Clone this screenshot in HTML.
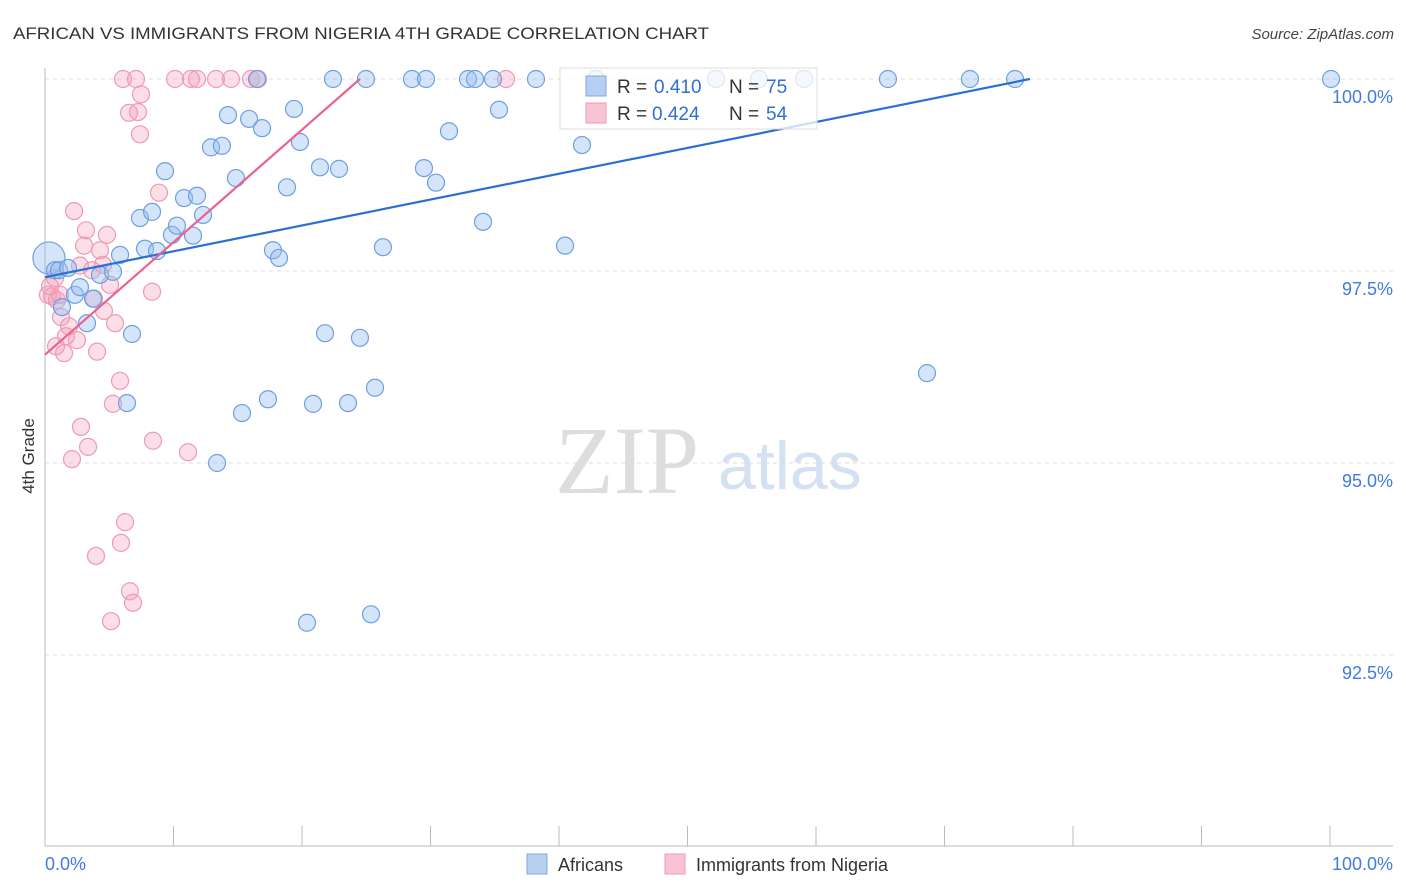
<!DOCTYPE html>
<html><head><meta charset="utf-8"><style>
body{margin:0;background:#fff;font-family:"Liberation Sans",sans-serif;}
svg{display:block}
</style></head><body>
<svg id="c" width="1406" height="892">
<text x="13" y="39" font-size="17" fill="#333" textLength="696" lengthAdjust="spacingAndGlyphs">AFRICAN VS IMMIGRANTS FROM NIGERIA 4TH GRADE CORRELATION CHART</text>
<text x="1394" y="39" font-size="15" fill="#444" font-style="italic" text-anchor="end">Source: ZipAtlas.com</text>
<text transform="translate(34,456) rotate(-90)" font-size="17" fill="#333" text-anchor="middle">4th Grade</text>
<text x="555" y="493" font-size="96" fill="#ddd" font-family="Liberation Serif,serif">ZIP</text>
<text x="718" y="489" font-size="68" fill="#d4e1f3">atlas</text>
<g id="grid"></g><g id="marks"></g>
<g>
<rect x="560" y="68" width="257" height="61" fill="#fff" fill-opacity="0.75" stroke="#ddd"/>
<rect x="586" y="76" width="20" height="20" fill="#b7d0f2" stroke="#7fa8e0"/>
<rect x="586" y="103" width="20" height="20" fill="#f8c4d4" stroke="#eb9ab3"/>
<text x="617" y="93" font-size="19" fill="#333">R =</text>
<text x="654" y="93" font-size="19" fill="#2f6fd6">0.410</text>
<text x="729" y="93" font-size="19" fill="#333">N =</text>
<text x="766" y="93" font-size="19" fill="#2f6fd6">75</text>
<text x="617" y="120" font-size="19" fill="#333">R =</text>
<text x="652" y="120" font-size="19" fill="#2f6fd6">0.424</text>
<text x="729" y="120" font-size="19" fill="#333">N =</text>
<text x="766" y="120" font-size="19" fill="#2f6fd6">54</text>
</g>
<g>
<rect x="527" y="854" width="20" height="20" fill="#b7d0f2" stroke="#7fa8e0"/>
<text x="558" y="871" font-size="18" fill="#333">Africans</text>
<rect x="665" y="854" width="20" height="20" fill="#f8c4d4" stroke="#eb9ab3"/>
<text x="696" y="871" font-size="18" fill="#333">Immigrants from Nigeria</text>
</g>
</svg>
<script>
const yTicks=[100,97.5,95,92.5];
const yTickLabels=["100.0%","97.5%","95.0%","92.5%"];
const xTickLabels=["0.0%","100.0%"];
const blueX=[0.31,0.78,1.32,1.09,1.79,2.33,2.72,3.27,3.74,4.28,5.29,5.84,6.38,6.77,7.39,7.78,8.33,8.72,9.34,9.88,10.27,10.82,11.52,11.83,12.30,12.92,13.39,13.77,14.24,14.86,15.33,15.88,16.50,16.89,17.35,17.74,18.21,18.83,19.38,19.84,20.39,20.86,21.40,21.79,22.41,22.88,23.58,24.51,24.98,25.37,25.68,26.30,28.56,29.49,29.65,30.43,31.44,32.92,33.46,34.09,34.86,35.33,38.21,40.47,41.79,42.88,52.22,55.56,59.07,65.60,68.64,71.98,75.49,100.08];
const blueY=[97.67,97.51,97.03,97.51,97.54,97.19,97.29,96.82,97.14,97.45,97.49,97.71,95.78,96.68,98.19,97.79,98.27,97.76,98.80,97.97,98.09,98.45,97.96,98.48,98.23,99.11,95.00,99.13,99.53,98.71,95.65,99.48,100,99.36,95.83,97.77,97.67,98.59,99.61,99.18,92.92,95.77,98.85,96.69,100,98.83,95.78,96.63,100,93.03,95.98,97.81,100,98.84,100,98.65,99.32,100,100,98.14,100,99.60,100,97.83,99.14,100,100,100,100,100,96.17,100,100,100];
const pinkX=[6.07,7.08,10.12,11.36,11.83,13.31,14.47,16.03,16.58,35.88,7.47,6.54,7.24,7.39,8.87,2.26,3.19,4.82,3.04,4.28,2.72,4.51,3.66,5.06,0.78,0.54,0.93,3.81,8.33,1.25,4.59,5.45,1.87,2.49,1.63,0.86,1.48,4.05,5.84,5.29,2.80,3.35,2.10,8.40,11.13,6.23,5.91,3.97,6.61,6.85,5.14,0.23,1.17,0.39];
const pinkY=[100,100,100,100,100,100,100,100,100,100,99.80,99.56,99.57,99.28,98.52,98.28,98.03,97.97,97.83,97.77,97.57,97.58,97.51,97.32,97.41,97.17,97.12,97.14,97.23,96.90,96.98,96.82,96.78,96.60,96.65,96.52,96.43,96.45,96.07,95.77,95.47,95.21,95.05,95.29,95.14,94.23,93.96,93.79,93.33,93.18,92.94,97.19,97.19,97.30];
const blueTrendX=[0,76.65], blueTrendY=[97.42,100];
const pinkTrendX=[0,24.51], pinkTrendY=[96.41,100];
const X=v=>45+v*12.85, Y=v=>79+(100-v)*76.8;
const NS="http://www.w3.org/2000/svg";
function mk(t,a,p){const e=document.createElementNS(NS,t);for(const k in a)e.setAttribute(k,a[k]);p.appendChild(e);return e;}
const grid=document.getElementById('grid'), marks=document.getElementById('marks');
yTicks.forEach((t,i)=>{
 const l=mk('line',{x1:45,x2:1393,y1:Y(t),y2:Y(t),stroke:'#ddd','stroke-dasharray':'4,4'},grid);
 
 
 const tx=mk('text',{x:1393,y:Y(t)+24,'font-size':18,fill:'#3f7be0','text-anchor':'end'},grid);
 tx.textContent=yTickLabels[i];
 
 
});
mk('line',{x1:45,x2:45,y1:68,y2:846,stroke:'#bbb'},grid);
mk('line',{x1:45,x2:1393,y1:846,y2:846,stroke:'#bbb'},grid);
for(let i=0;i<=10;i++){const x=X(i*10);mk('line',{x1:x,x2:x,y1:826,y2:846,stroke:'#bbb'},grid);}
const xl0=mk('text',{x:45,y:870,'font-size':18,fill:'#3f7be0'},grid);xl0.textContent=xTickLabels[0];


const xl1=mk('text',{x:1393,y:870,'font-size':18,fill:'#3f7be0','text-anchor':'end'},grid);xl1.textContent=xTickLabels[1];


pinkX.forEach((v,i)=>{const c=mk('circle',{cx:X(v),cy:Y(pinkY[i]),r:8.5,fill:'rgba(244,160,186,0.35)',stroke:'#ef9ab4','stroke-width':1.2},marks);
 
 });
blueX.forEach((v,i)=>{const c=mk('circle',{cx:X(v),cy:Y(blueY[i]),r:i==0?16:8.5,fill:'rgba(150,190,240,0.4)',stroke:'#6d9fe2','stroke-width':1.2},marks);
 
 });
const bl=mk('line',{x1:X(blueTrendX[0]),y1:Y(blueTrendY[0]),x2:X(blueTrendX[1]),y2:Y(blueTrendY[1]),stroke:'#2a6fd6','stroke-width':2.2},marks);


const pl=mk('line',{x1:X(pinkTrendX[0]),y1:Y(pinkTrendY[0]),x2:X(pinkTrendX[1]),y2:Y(pinkTrendY[1]),stroke:'#e8648e','stroke-width':2.2},marks);


</script>
</body></html>
